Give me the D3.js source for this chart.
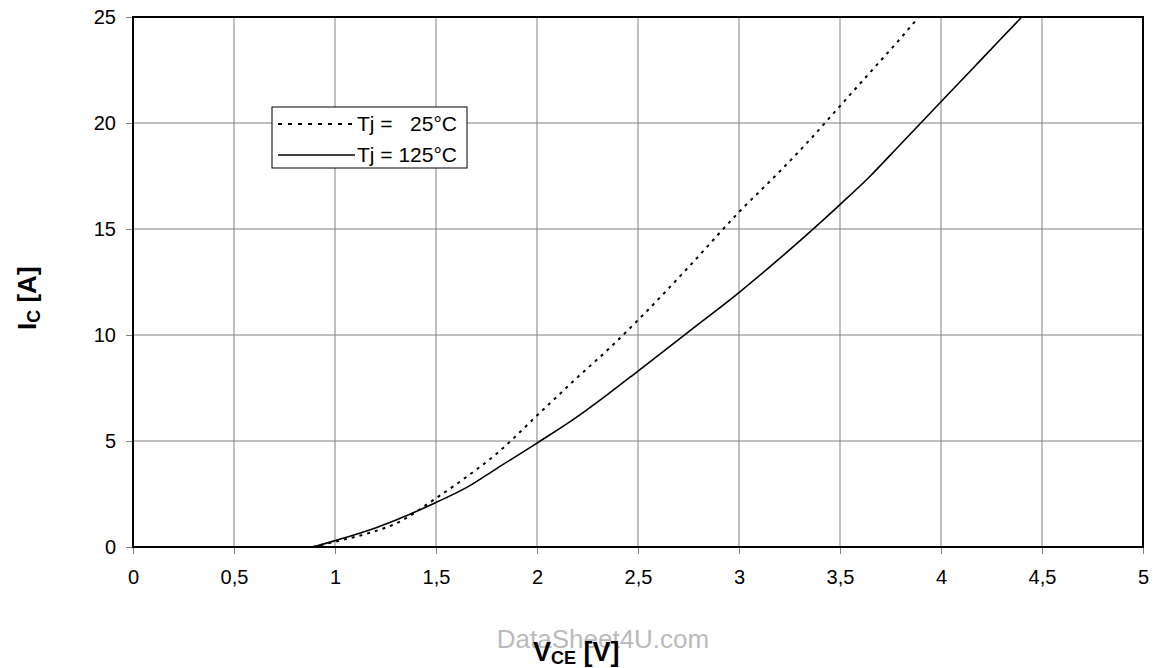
<!DOCTYPE html>
<html>
<head>
<meta charset="utf-8">
<script src="https://cdn.jsdelivr.net/npm/d3@7"></script>
<style>
    body { margin: 0; background: #fff; }
    text { font-family: "Liberation Sans", Arial, sans-serif; }
</style>
</head>
<body>
<div id="chart"></div>
<script>
// collector current vs collector-emitter voltage
const xTicks = [0, 0.5, 1, 1.5, 2, 2.5, 3, 3.5, 4, 4.5, 5];
const yTicks = [0, 5, 10, 15, 20, 25];

const vce25 = [0.89, 1, 1.2, 1.3, 1.5, 1.65, 1.8, 2, 2.2, 2.35, 2.5, 2.75, 3, 3.2, 3.35, 3.5, 3.65, 3.8, 3.89];
const ic25 = [0, 0.25, 0.75, 1.1, 2.3, 3.3, 4.4, 6.2, 8, 9.3, 10.7, 13.2, 15.8, 17.7, 19.2, 20.8, 22.4, 24.0, 25];

const vce125 = [0.89, 1, 1.2, 1.5, 1.65, 1.8, 2, 2.2, 2.35, 2.5, 2.75, 3, 3.2, 3.35, 3.5, 3.65, 3.8, 4, 4.2, 4.4];
const ic125 = [0, 0.3, 0.9, 2.1, 2.8, 3.7, 4.9, 6.15, 7.2, 8.3, 10.15, 12, 13.6, 14.85, 16.15, 17.5, 19.0, 21, 23, 25];

const legendLabels = ["Tj =   25°C", "Tj = 125°C"];

const W = 1153, H = 668;
const m = {left: 133, right: 10, top: 17, bottom: 121};

const svg = d3.select("#chart").append("svg")
    .attr("width", W).attr("height", H);

const x = d3.scaleLinear().domain([0, 5]).range([m.left, W - m.right]);
const y = d3.scaleLinear().domain([0, 25]).range([H - m.bottom, m.top]);

// grid
svg.append("g").selectAll("line.vg")
    .data(xTicks.slice(1, -1)).enter().append("line")
    .attr("x1", d => x(d)).attr("x2", d => x(d))
    .attr("y1", y(25)).attr("y2", y(0))
    .attr("stroke", "#808080").attr("stroke-width", 1);
svg.append("g").selectAll("line.hg")
    .data(yTicks.slice(1, -1)).enter().append("line")
    .attr("x1", x(0)).attr("x2", x(5))
    .attr("y1", d => y(d)).attr("y2", d => y(d))
    .attr("stroke", "#808080").attr("stroke-width", 1);

// axes
const fmt = d => String(d).replace(".", ",");
const xAxis = svg.append("g")
    .attr("transform", `translate(0,${y(0)})`)
    .call(d3.axisBottom(x).tickValues(xTicks).tickFormat(fmt).tickSize(7).tickPadding(16));
const yAxis = svg.append("g")
    .attr("transform", `translate(${x(0)},0)`)
    .call(d3.axisLeft(y).tickValues(yTicks).tickSize(7).tickPadding(10));
[xAxis, yAxis].forEach(a => {
    a.select(".domain").remove();
    a.selectAll(".tick line").attr("stroke", "#808080");
    a.selectAll("text").attr("font-size", 20).attr("fill", "#000")
        .style("font-family", "'Liberation Sans', Arial, sans-serif");
});

// frame
svg.append("rect")
    .attr("x", x(0)).attr("y", y(25))
    .attr("width", x(5) - x(0)).attr("height", y(0) - y(25))
    .attr("fill", "none").attr("stroke", "#000").attr("stroke-width", 2);

// curves
const line = d3.line().x(d => x(d[0])).y(d => y(d[1])).curve(d3.curveMonotoneX);
svg.append("path")
    .datum(d3.zip(vce25, ic25))
    .attr("d", line).attr("fill", "none")
    .attr("stroke", "#000").attr("stroke-width", 2)
    .attr("stroke-dasharray", "3,5");
svg.append("path")
    .datum(d3.zip(vce125, ic125))
    .attr("d", line).attr("fill", "none")
    .attr("stroke", "#000").attr("stroke-width", 1.6);

// legend
const lg = svg.append("g");
lg.append("rect")
    .attr("x", 272).attr("y", 107).attr("width", 195).attr("height", 61)
    .attr("fill", "#fff").attr("stroke", "#000").attr("stroke-width", 1);
legendLabels.forEach((t, i) => {
    const ly = 124 + i * 31;
    lg.append("line")
        .attr("x1", 278).attr("x2", 355).attr("y1", ly).attr("y2", ly)
        .attr("stroke", "#000")
        .attr("stroke-width", i === 0 ? 2 : 1.6)
        .attr("stroke-dasharray", i === 0 ? "4,6" : null);
    lg.append("text")
        .attr("x", 357).attr("y", ly + 6.5)
        .attr("font-size", 21)
        .style("white-space", "pre")
        .text(t);
});

// watermark
svg.append("text")
    .attr("x", 603).attr("y", 648)
    .attr("text-anchor", "middle")
    .attr("font-size", 26).attr("fill", "#bbb")
    .text("DataSheet4U.com");

// axis titles
const xt = svg.append("text")
    .attr("x", 533).attr("y", 661)
    .attr("font-size", 27).attr("font-weight", "bold");
xt.append("tspan").text("V");
xt.append("tspan").attr("font-size", 18).attr("dy", 3).text("CE");
xt.append("tspan").attr("dy", -3).text(" [V]");

const yt = svg.append("text")
    .attr("transform", "translate(36,330) rotate(-90)")
    .attr("font-size", 26).attr("font-weight", "bold");
yt.append("tspan").text("I");
yt.append("tspan").attr("font-size", 18).attr("dy", 4).text("C");
yt.append("tspan").attr("dy", -4).text(" [A]");
</script>
</body>
</html>
